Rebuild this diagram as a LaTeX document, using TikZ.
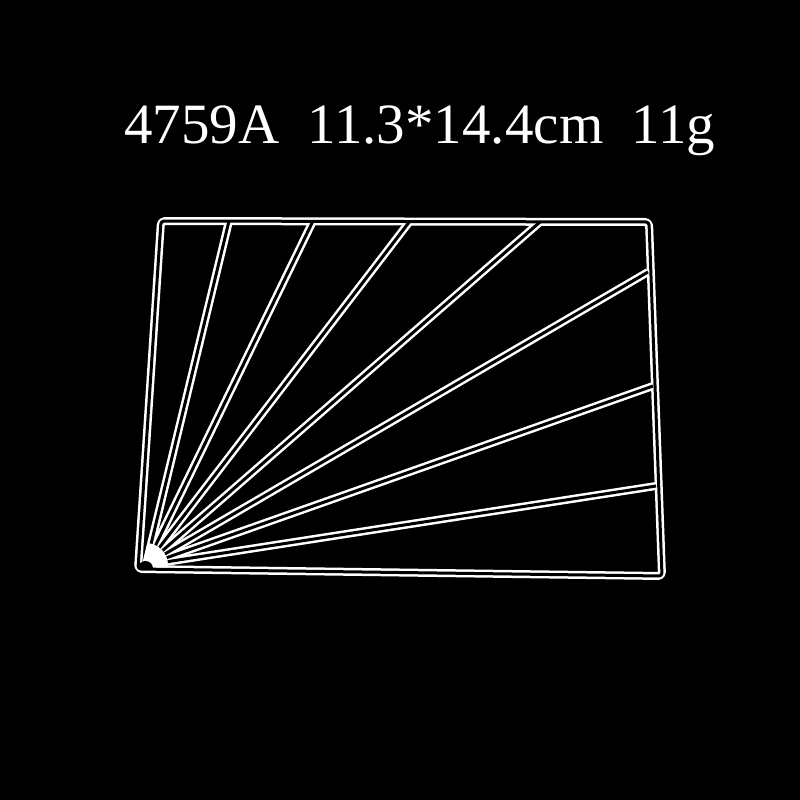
\documentclass[tikz,border=0pt]{standalone}
\usepackage{fontspec}
\setmainfont{Liberation Serif}
\begin{document}
\begin{tikzpicture}[x=1pt,y=-1pt,
  cutouter/.style={draw=white,line width=8pt,line join=round},
  cutinner/.style={draw=black,line width=3pt,line join=round}]
\fill[black] (0,0) rectangle (800,800);
\useasboundingbox (0,0) rectangle (800,800);
\node[anchor=base west,inner sep=0pt,text=white,font=\fontsize{57}{60}\selectfont] (title) at (124,143) {4759A\ \ 11.3*14.4cm\ \ 11g};
% frame corners (centre line of the double outline)
\coordinate (TL) at (161,221);
\coordinate (TR) at (649,222);
\coordinate (BR) at (662,576);
\coordinate (BL) at (138,569);
% fan centre
\coordinate (C) at (146,565);
% ray ends on the frame
\coordinate (t1) at (229,221);
\coordinate (t2) at (313,221);
\coordinate (t3) at (410,221);
\coordinate (t4) at (540,222);
\coordinate (r1) at (648,272);
\coordinate (r2) at (653,386);
\coordinate (r3) at (656,486);
% white strokes
\draw[cutouter,rounded corners=4pt] (TL) -- (TR) -- (BR) -- (BL) -- cycle;
\foreach \p in {t1,t2,t3,t4,r1,r2,r3}
  \draw[cutouter] (C) -- (\p);
% black gaps
\draw[cutinner,rounded corners=3pt] (TL) -- (TR) -- (BR) -- (BL) -- cycle;
\foreach \p in {t1,t2,t3,t4,r1,r2,r3}
  \draw[cutinner,shorten <=22pt] (C) -- (\p);
% small black half disc at the fan centre
\begin{scope}
  \clip (130,550) rectangle (165,568.5);
  \fill[black] (145.5,568.5) circle[radius=7.5pt];
\end{scope}
\end{tikzpicture}
\end{document}
